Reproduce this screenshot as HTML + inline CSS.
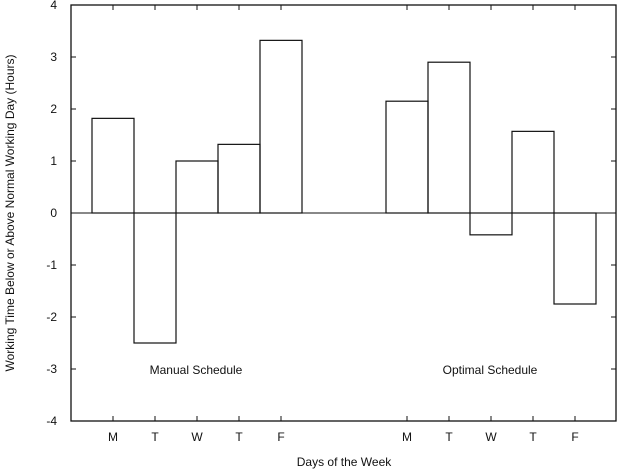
<!DOCTYPE html>
<html><head><meta charset="utf-8"><style>
html,body{margin:0;padding:0;background:#fff;width:619px;height:473px;overflow:hidden}
svg{display:block;font-family:"Liberation Sans",Arial,sans-serif}
</style></head><body>
<svg id="chart" width="619" height="473" viewBox="0 0 619 473">
<g id="frame"></g>
<g id="bars"></g>
<g id="axes"></g>
<text transform="translate(14,213) rotate(-90)" text-anchor="middle" font-size="12" fill="#111">Working Time Below or Above Normal Working Day (Hours)</text>
<text x="344" y="466" text-anchor="middle" font-size="12" fill="#111">Days of the Week</text>
<text x="196" y="374" text-anchor="middle" font-size="12" fill="#111">Manual Schedule</text>
<text x="490" y="374" text-anchor="middle" font-size="12" fill="#111">Optimal Schedule</text>
</svg>
<script>
const days = ["M","T","W","T","F"];
const manualValues = [1.82, -2.5, 1.0, 1.32, 3.32];
const optimalValues = [2.15, 2.9, -0.42, 1.57, -1.75];
const yTicks = [4,3,2,1,0,-1,-2,-3,-4];

const NS = "http://www.w3.org/2000/svg";
const L = 71, R = 616, T = 5, B = 421;
const yMin = -4, yMax = 4;
function y(v){ return B - (v - yMin) / (yMax - yMin) * (B - T); }
function xCenter(slot){ return 113 + slot * 42; }
const bw = 42;
function mk(tag, attrs, parent){
  const e = document.createElementNS(NS, tag);
  for (const k in attrs) e.setAttribute(k, attrs[k]);
  parent.appendChild(e);
  return e;
}
const frame = document.getElementById('frame');
const bars = document.getElementById('bars');
const axes = document.getElementById('axes');
const border = mk('rect', {x:L, y:T, width:R-L, height:B-T, fill:'none', stroke:'#111', 'stroke-width':1.3}, frame);


const zero = mk('line', {x1:L, x2:R, y1:y(0), y2:y(0), stroke:'#111', 'stroke-width':1}, frame);



function drawSeries(vals, startSlot, name){
  vals.forEach((v, i) => {
    const cx = xCenter(startSlot + i);
    const top = Math.min(y(v), y(0)), h = Math.abs(y(v) - y(0));
    const r = mk('rect', {x:cx - bw/2, y:top, width:bw, height:h, fill:'none', stroke:'#111', 'stroke-width':1.2}, bars);
    
    
  });
}
drawSeries(manualValues, 0, 'manual');
drawSeries(optimalValues, 7, 'optimal');

yTicks.forEach(t => {
  const yy = y(t);
  const tl = mk('line', {x1:L, x2:L+5, y1:yy, y2:yy, stroke:'#111'}, axes);
  
  
  const tr = mk('line', {x1:R-5, x2:R, y1:yy, y2:yy, stroke:'#111'}, axes);
  
  
  const lb = mk('text', {x:L-14, y:yy+4, 'text-anchor':'end', 'font-size':12, fill:'#111'}, axes);
  
  
  lb.textContent = String(t);
});
const slots = [0,1,2,3,4,7,8,9,10,11];
slots.forEach((s, i) => {
  const cx = xCenter(s);
  const tb = mk('line', {x1:cx, x2:cx, y1:B, y2:B-5, stroke:'#111'}, axes);
  
  
  const tt = mk('line', {x1:cx, x2:cx, y1:T, y2:T+5, stroke:'#111'}, axes);
  
  
  const lb = mk('text', {x:cx, y:B+20, 'text-anchor':'middle', 'font-size':12, fill:'#111'}, axes);
  
  
  lb.textContent = days[i % 5];
});
</script>
</body></html>
